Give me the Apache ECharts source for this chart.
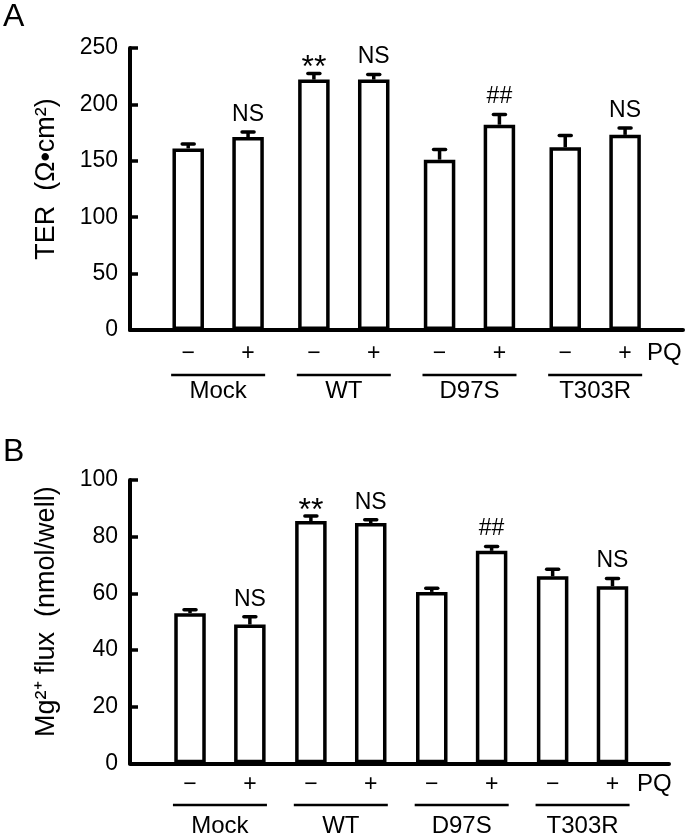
<!DOCTYPE html>
<html><head><meta charset="utf-8">
<script src="https://cdn.jsdelivr.net/npm/echarts@6/dist/echarts.min.js"></script>
<style>html,body{margin:0;padding:0;background:#fff}#c{width:685px;height:835px}</style>
</head><body><div id="c"></div>
<script>
// ---- data ----
const groups = ['Mock', 'WT', 'D97S', 'T303R'];
const pqSigns = ['−', '+'];
const pqLabel = 'PQ';

const terMinus = [161, 222, 151, 162];
const terPlus = [171, 222, 182, 173];
const terErrMinus = [4, 5.5, 9, 10.5];
const terErrPlus = [4.5, 4.5, 9, 6];
const terSigMinus = ['', '**', '', ''];
const terSigPlus = ['NS', 'NS', '##', 'NS'];
const terAxis = [0, 250, 50];
const terName = 'TER  (Ω•cm²)';

const mgMinus = [53, 85.5, 60.5, 66];
const mgPlus = [49, 84.8, 75, 62.5];
const mgErrMinus = [1.2, 1.8, 1.3, 2.5];
const mgErrPlus = [2.7, 1.2, 1.5, 2.7];
const mgSigMinus = ['', '**', '', ''];
const mgSigPlus = ['NS', 'NS', '##', 'NS'];
const mgAxis = [0, 100, 20];
const mgName = 'Mg²⁺ flux  (nmol/well)';

// ---- style ----
const FF = '"Liberation Sans", Arial, sans-serif';
const BAR_W = 31.5, GAP = 0.9, BW = 3.5;
const OFF = BAR_W * (1 + GAP) / 2;

const grid = [], xAxis = [], yAxis = [], series = [];

function panel(cfg) {
  const gF = grid.length, gD = gF + 1;
  grid.push({left: 130, right: cfg.frameRight, top: cfg.top, bottom: cfg.bottom, outerBoundsMode: 'none', containLabel: false});
  grid.push({left: cfg.dataLeft, right: cfg.dataRight, top: cfg.top, bottom: cfg.bottom, outerBoundsMode: 'none', containLabel: false});
  // frame axes
  xAxis.push({gridIndex: gF, type: 'value', min: 0, max: 1,
    axisLine: {show: true, onZero: false, lineStyle: {width: 4, color: '#000'}},
    axisTick: {show: false}, axisLabel: {show: false}, splitLine: {show: false}});
  yAxis.push({gridIndex: gF, type: 'value', min: cfg.axis[0], max: cfg.axis[1], interval: cfg.axis[2],
    axisLine: {show: true, lineStyle: {width: 4, color: '#000'}},
    axisTick: {show: true, inside: true, length: 8, lineStyle: {width: 3.5, color: '#000'}},
    axisLabel: {fontSize: 23, margin: 12, color: '#000', fontFamily: FF},
    splitLine: {show: false},
    name: cfg.name, nameLocation: 'middle', nameGap: 70,
    nameTextStyle: {fontSize: 27, color: '#000', fontFamily: FF, padding: [0, 0, 0, 20]}});
  // data axes
  const yD = yAxis.length;
  yAxis.push({gridIndex: gD, type: 'value', min: cfg.axis[0], max: cfg.axis[1], show: false});
  const xS = xAxis.length;
  xAxis.push({gridIndex: gD, type: 'category', data: groups, position: 'bottom',
    axisLine: {show: false}, axisTick: {show: false},
    axisLabel: {interval: 0, margin: cfg.m1, color: '#000', fontFamily: FF,
      formatter: () => '{s|' + pqSigns[0] + '}{g| }{s|' + pqSigns[1] + '}',
      rich: {s: {fontSize: 23, width: 14, align: 'center', lineHeight: 26, fontFamily: FF},
             g: {width: 2 * OFF - 14, lineHeight: 26}}},
    name: pqLabel, nameLocation: 'end', nameGap: cfg.pqGap,
    nameTextStyle: {fontSize: 24, color: '#000', fontFamily: FF, verticalAlign: 'top',
      lineHeight: 26, padding: [cfg.pqPad, 0, 0, 0]}});
  xAxis.push({gridIndex: gD, type: 'category', data: groups, position: 'bottom',
    axisLine: {show: false}, axisTick: {show: false},
    axisLabel: {interval: 0, margin: cfg.m2, formatter: () => ' ', fontSize: 2, lineHeight: 2.5,
      width: 94, height: 2.5, backgroundColor: '#000', padding: 0}});
  xAxis.push({gridIndex: gD, type: 'category', data: groups, position: 'bottom',
    axisLine: {show: false}, axisTick: {show: false},
    axisLabel: {interval: 0, margin: cfg.m3, fontSize: 24, lineHeight: 24, color: '#000', fontFamily: FF}});

  const sets = [
    {vals: cfg.minus, errs: cfg.errMinus, sigs: cfg.sigMinus, off: -OFF},
    {vals: cfg.plus, errs: cfg.errPlus, sigs: cfg.sigPlus, off: OFF}
  ];
  sets.forEach(s => {
    series.push({type: 'bar', xAxisIndex: xS, yAxisIndex: yD, data: s.vals,
      barWidth: BAR_W, barGap: (GAP * 100) + '%', silent: true,
      itemStyle: {color: '#fff', borderColor: '#000', borderWidth: BW}});
  });
  sets.forEach(s => {
    series.push({type: 'custom', xAxisIndex: xS, yAxisIndex: yD, z: 5, silent: true,
      data: s.vals.map((v, i) => [i, v]),
      renderItem: (params, api) => {
        const i = params.dataIndex;
        const base = api.coord([i, s.vals[i]]);
        const top = api.coord([i, s.vals[i] + s.errs[i]]);
        const x = base[0] + s.off;
        const sig = s.sigs[i];
        const star = sig.indexOf('*') >= 0;
        const ty = star ? top[1] + 11 : top[1] - 6;
        return {type: 'group', children: [
          {type: 'line', shape: {x1: x, y1: base[1], x2: x, y2: top[1]}, style: {stroke: '#000', lineWidth: 3.5}},
          {type: 'line', shape: {x1: x - 6, y1: top[1], x2: x + 6, y2: top[1]}, style: {stroke: '#000', lineWidth: 3.5, lineCap: 'round'}},
          {type: 'text', style: {text: sig, x: x, y: ty, align: 'center', verticalAlign: 'bottom',
            fontSize: star ? 32 : 23, fill: '#000', fontFamily: FF}}
        ]};
      }});
  });
}

panel({top: 48, bottom: 505, frameRight: 2, dataLeft: 155.3, dataRight: 27,
  axis: terAxis, name: terName, m1: 11, m2: 43.75, m3: 49, pqGap: -11, pqPad: 10,
  minus: terMinus, plus: terPlus, errMinus: terErrMinus, errPlus: terErrPlus,
  sigMinus: terSigMinus, sigPlus: terSigPlus});
panel({top: 480, bottom: 71.7, frameRight: 16, dataLeft: 159.5, dataRight: 42,
  axis: mgAxis, name: mgName, m1: 8, m2: 40.5, m3: 51, pqGap: -6, pqPad: 8,
  minus: mgMinus, plus: mgPlus, errMinus: mgErrMinus, errPlus: mgErrPlus,
  sigMinus: mgSigMinus, sigPlus: mgSigPlus});

const chart = echarts.init(document.getElementById('c'), null, {renderer: 'canvas'});
chart.setOption({
  animation: false,
  backgroundColor: '#fff',
  title: [
    {text: 'A', left: 3, top: 1, padding: 0, textStyle: {fontSize: 32, fontWeight: 'normal', color: '#000', fontFamily: FF}},
    {text: 'B', left: 3, top: 436, padding: 0, textStyle: {fontSize: 32, fontWeight: 'normal', color: '#000', fontFamily: FF}}
  ],
  grid, xAxis, yAxis, series
});
</script>
</body></html>
